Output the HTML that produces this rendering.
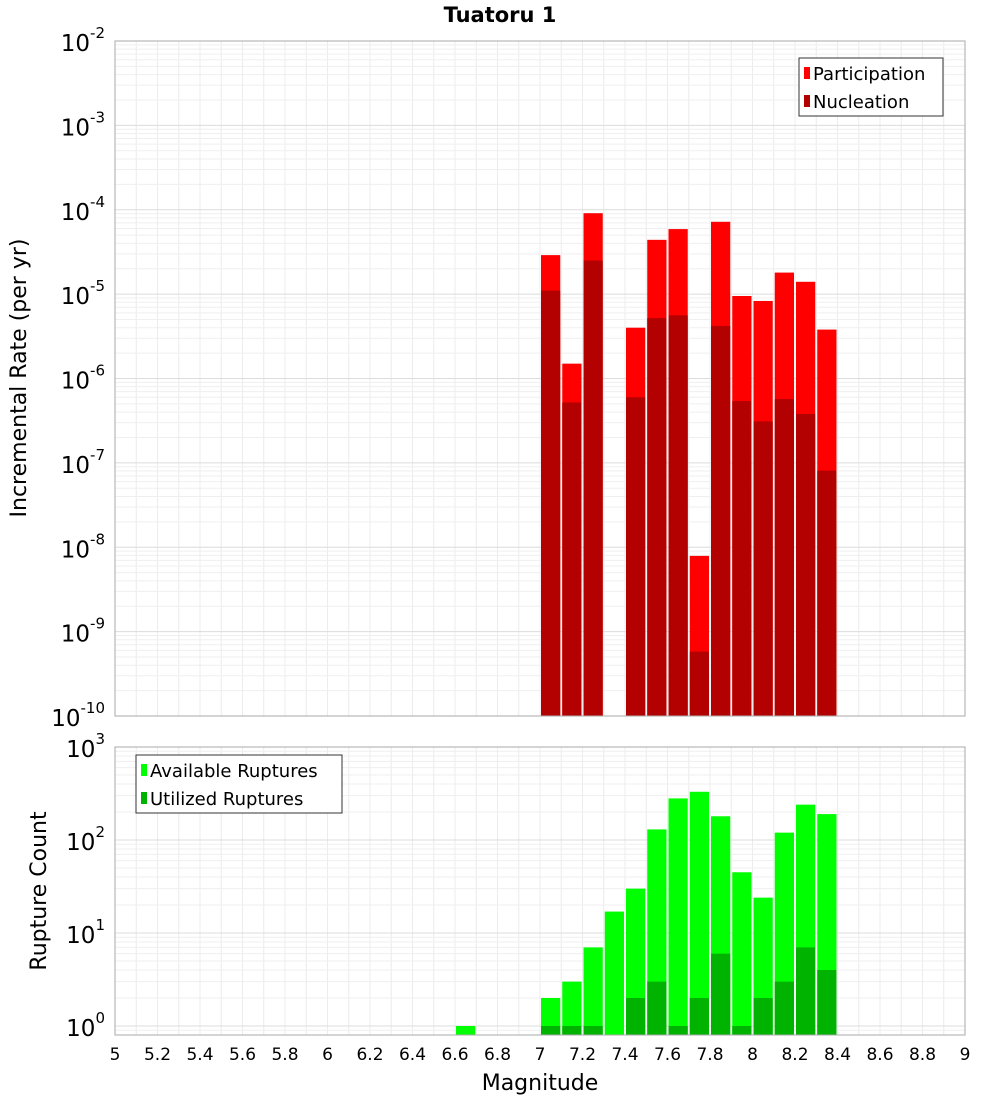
<!DOCTYPE html>
<html><head><meta charset="utf-8"><style>
body{margin:0;background:#fff;font-family:"Liberation Sans","DejaVu Sans",sans-serif}
</style></head><body>
<svg id="c" width="1000" height="1100" xmlns="http://www.w3.org/2000/svg" font-family="DejaVu Sans, Liberation Sans, sans-serif">
<text x="500" y="22" text-anchor="middle" font-size="21" font-weight="bold">Tuatoru 1</text>
<g id="top"></g>
<g id="bot"></g>
</svg>
<script>
const bins=[7.05,7.15,7.25,7.35,7.45,7.55,7.65,7.75,7.85,7.95,8.05,8.15,8.25,8.35];
const participation=[2.9e-5,1.5e-6,9.1e-5,null,4e-6,4.4e-5,5.9e-5,7.9e-9,7.2e-5,9.5e-6,8.3e-6,1.8e-5,1.4e-5,3.8e-6];
const nucleation=[1.1e-5,5.2e-7,2.5e-5,null,6e-7,5.2e-6,5.6e-6,5.8e-10,4.2e-6,5.4e-7,3.1e-7,5.7e-7,3.8e-7,8.1e-8];
const countBins=[6.65,7.05,7.15,7.25,7.35,7.45,7.55,7.65,7.75,7.85,7.95,8.05,8.15,8.25,8.35];
const available=[1,2,3,7,17,30,130,280,330,180,45,24,120,240,190];
const utilized=[null,1,1,1,null,2,3,1,2,6,1,2,3,7,4];
const xTicks=[5,5.2,5.4,5.6,5.8,6,6.2,6.4,6.6,6.8,7,7.2,7.4,7.6,7.8,8,8.2,8.4,8.6,8.8,9];
const topExps=[-2,-3,-4,-5,-6,-7,-8,-9,-10];
const botExps=[3,2,1,0];

const NS="http://www.w3.org/2000/svg";
function el(p,t,a){const e=document.createElementNS(NS,t);for(const k in a)e.setAttribute(k,a[k]);p.appendChild(e);return e;}
const X0=115,X1=965;
const x=m=>X0+(m-5)/4*(X1-X0);
const yTop=v=>41+(-2-Math.log10(v))*84.375;
const yBot=v=>1026-Math.log10(v)*93;
const TB=716,BT=747,BB=1035;

function panel(g,top,bot,yf,lo,hi){
  el(g,'rect',{x:X0,y:top,width:X1-X0,height:bot-top,fill:'#fff',stroke:'none'});
  for(let m=5;m<=9.0001;m+=0.1){const l=el(g,'line',{x1:x(m),x2:x(m),y1:top,y2:bot,stroke:'#ececec','stroke-width':1});}
  for(let e=lo;e<hi;e++)for(let k=1;k<10;k++){const yy=yf(k*Math.pow(10,e));if(yy<top||yy>bot)continue;const l=el(g,'line',{x1:X0,x2:X1,y1:yy,y2:yy,stroke:k==1?'#dcdcdc':'#efefef','stroke-width':1});}
}
const tg=document.getElementById('top'),bg=document.getElementById('bot');
panel(tg,41,TB,yTop,-10,-2);
panel(bg,BT,BB,yBot,-1,3);
const bw=x(5.1)-x(5)-2;
bins.forEach((b,i)=>{
  if(participation[i]!=null){const r=el(tg,'rect',{x:x(b)-bw/2,y:yTop(participation[i]),width:bw,height:TB-yTop(participation[i]),fill:'#ff0000'});}
  if(nucleation[i]!=null){const r=el(tg,'rect',{x:x(b)-bw/2,y:yTop(nucleation[i]),width:bw,height:TB-yTop(nucleation[i]),fill:'#b30000'});}
});
countBins.forEach((b,i)=>{
  if(available[i]!=null){const r=el(bg,'rect',{x:x(b)-bw/2,y:yBot(available[i]),width:bw,height:BB-yBot(available[i]),fill:'#00ff00'});}
  if(utilized[i]!=null){const r=el(bg,'rect',{x:x(b)-bw/2,y:yBot(utilized[i]),width:bw,height:BB-yBot(utilized[i]),fill:'#00b300'});}
});
el(tg,'rect',{x:X0,y:41,width:X1-X0,height:TB-41,fill:'none',stroke:'#aaa'});
el(bg,'rect',{x:X0,y:BT,width:X1-X0,height:BB-BT,fill:'none',stroke:'#aaa'});
function ylab(g,yy,e){const t=el(g,'text',{x:105,y:yy+10,'text-anchor':'end','font-size':23});t.textContent='10';const s=el(t,'tspan',{dy:-13,'font-size':15});s.textContent=e;}
topExps.forEach(e=>ylab(tg,yTop(Math.pow(10,e)),e));
botExps.forEach(e=>ylab(bg,yBot(Math.pow(10,e)),e));
xTicks.forEach(m=>{const t=el(bg,'text',{x:x(m),y:1060,'text-anchor':'middle','font-size':17});t.textContent=String(m);});
let t=el(bg,'text',{x:540,y:1090,'text-anchor':'middle','font-size':22});t.textContent='Magnitude';
t=el(tg,'text',{x:26,y:378,'text-anchor':'middle','font-size':22,transform:'rotate(-90 26 378)'});t.textContent='Incremental Rate (per yr)';
t=el(bg,'text',{x:46,y:891,'text-anchor':'middle','font-size':22,transform:'rotate(-90 46 891)'});t.textContent='Rupture Count';
function legend(g,bx,by,w,items){const b=el(g,'rect',{x:bx,y:by,width:w,height:58,fill:'#fff',stroke:'#333'});
 items.forEach((it,i)=>{const yy=by+15+i*28;el(g,'rect',{x:bx+5,y:yy-6,width:6,height:12,fill:it[1]});const tt=el(g,'text',{x:bx+14,y:yy+7,'font-size':18});tt.textContent=it[0];});}
legend(tg,799,58,144,[['Participation','#ff0000'],['Nucleation','#b30000']]);
legend(bg,136,755,206,[['Available Ruptures','#00ff00'],['Utilized Ruptures','#00b300']]);
</script>
</body></html>
